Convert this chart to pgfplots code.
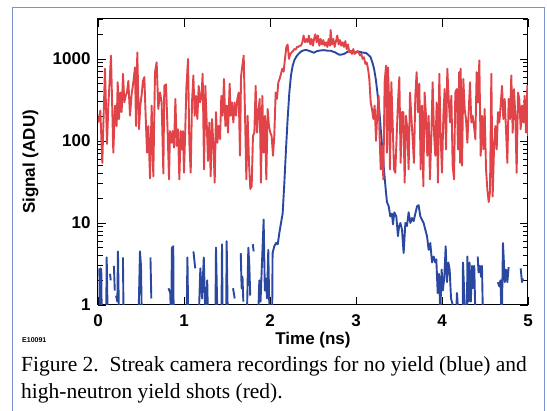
\documentclass[border=0pt]{standalone}
\usepackage{pgfplots}
\pgfplotsset{compat=1.18}
\usepackage{fontspec}
\setmainfont{Liberation Sans}
\newfontfamily\capfont{Liberation Serif}
\definecolor{redline}{RGB}{224,68,72}
\definecolor{blueline}{RGB}{42,72,160}
\definecolor{framec}{RGB}{125,145,205}
\begin{document}
\begin{tikzpicture}[x=1pt,y=1pt]
\useasboundingbox (0,0) rectangle (547,411);
\draw[framec,line width=1.3pt] (12.5,-5) -- (12.5,403.5) -- (544.5,403.5) -- (544.5,-5);
\begin{axis}[
  at={(98pt,106pt)}, anchor=south west,
  scale only axis, width=430pt, height=286pt,
  xmin=0, xmax=5, ymin=1, ymax=3070, ymode=log,
  xtick={0,1,2,3,4,5}, xticklabels={0,1,2,3,4,5},
  ytick={1,10,100,1000}, yticklabels={1,10,100,1000},
  minor ytick={2,3,4,5,6,7,8,9,20,30,40,50,60,70,80,90,200,300,400,500,600,700,800,900,2000,3000},
  tick align=inside,
  major tick length=8pt, minor tick length=5pt,
  every tick/.style={black, line width=0.8pt},
  ticklabel style={font=\fontsize{17}{17}\selectfont\bfseries},
  xticklabel style={anchor=base, yshift=-22pt},
  yticklabel style={xshift=-4pt},
  xlabel={Time (ns)}, ylabel={Signal (ADU)},
  every axis x label/.style={at={(axis description cs:0.5,0)}, anchor=center, yshift=-35pt, font=\fontsize{17}{17}\selectfont\bfseries},
  every axis y label/.style={at={(axis description cs:0,0.5)}, rotate=90, anchor=center, yshift=67.5pt, font=\fontsize{17}{17}\selectfont\bfseries},
  axis line style={line width=1pt, black},
  unbounded coords=jump,
]
\addplot[blueline, line width=1.9pt, line join=round] coordinates {
(0.010,nan)(0.016,2.8)(0.022,0.6)(0.028,2.8)(0.038,2.7)(0.044,0.6)(0.050,nan)
(0.095,0.6)(0.101,3.8)(0.110,1.0)(0.120,nan)(0.140,2.4)(0.148,2.0)(0.155,nan)
(0.185,3.0)(0.195,1.5)(0.200,nan)(0.210,1.3)(0.225,1.1)(0.232,4.5)(0.245,0.6)(0.250,nan)
(0.290,3.8)(0.298,0.6)(0.305,nan)(0.470,0.6)(0.488,4.5)(0.500,3.0)(0.510,0.6)(0.520,nan)
(0.610,3.8)(0.620,1.2)(0.630,nan)(0.820,1.6)(0.840,1.4)(0.850,0.6)(0.860,5.0)(0.875,5.2)(0.880,0.6)(0.890,nan)
(1.030,0.6)(1.040,3.8)(1.050,0.6)(1.060,nan)(1.110,4.5)(1.130,2.8)(1.140,nan)
(1.170,0.6)(1.190,2.8)(1.210,1.2)(1.230,3.8)(1.250,0.6)(1.270,2.0)(1.280,0.6)(1.290,nan)
(1.365,0.6)(1.372,5.0)(1.390,0.6)(1.400,nan)(1.435,0.6)(1.442,5.5)(1.450,0.6)(1.460,nan)
(1.490,0.6)(1.496,6.0)(1.510,0.6)(1.520,nan)(1.570,1.6)(1.590,1.2)(1.600,nan)
(1.660,4.3)(1.670,1.6)(1.680,2.2)(1.690,1.1)(1.700,nan)
(1.730,0.6)(1.748,5.0)(1.760,3.0)(1.770,1.3)(1.780,nan)(1.800,5.5)(1.810,4.5)(1.820,nan)
(1.860,0.6)(1.876,2.0)(1.890,1.1)(1.900,2.1)(1.926,11)(1.940,1.5)(1.953,2.1)(1.965,1.2)
(1.980,4.7)(1.990,1.2)(2.000,0.6)(2.010,nan)(2.025,0.6)(2.030,4.3)(2.050,5.2)(2.070,5.7)
(2.090,5.5)(2.109,7.6)(2.128,10)(2.147,13)(2.167,31)(2.186,79)(2.205,185)(2.225,390)
(2.244,630)(2.264,830)(2.283,960)(2.302,1050)(2.330,1150)(2.360,1230)(2.390,1270)
(2.419,1290)(2.450,1260)(2.477,1230)(2.510,1190)(2.550,1250)(2.590,1270)(2.628,1280)
(2.670,1260)(2.705,1260)(2.730,1230)(2.760,1200)(2.800,1130)(2.830,1130)(2.860,1150)
(2.890,1200)(2.919,1260)(2.957,1230)(2.996,1200)(3.035,1230)(3.070,1200)(3.120,1180)
(3.151,1100)(3.170,1050)(3.190,910)(3.210,760)(3.230,570)(3.250,380)(3.270,245)
(3.290,130)(3.306,79)(3.325,45)(3.345,26)(3.360,18)(3.380,16)(3.399,12)(3.418,13)
(3.430,9.6)(3.446,13.5)(3.469,12)(3.488,6.9)(3.500,9)(3.516,10)(3.535,8.3)(3.554,4.3)
(3.574,10)(3.593,9.2)(3.612,13.5)(3.632,10)(3.651,11.5)(3.670,10.5)(3.690,13)(3.710,16)
(3.728,16.5)(3.748,12)(3.767,11)(3.786,10)(3.806,8.3)(3.826,6.9)(3.845,4.7)(3.864,5.7)
(3.884,3.3)(3.903,3.9)(3.922,3.3)(3.934,3.6)(3.950,1.4)(3.965,2.4)(3.980,0.8)(3.996,2.7)
(4.010,1.5)(4.027,2.2)(4.043,5.2)(4.058,1.9)(4.074,3.3)(4.089,2.7)(4.105,1.2)(4.120,1.05)
(4.136,0.8)(4.145,nan)(4.165,0.8)(4.174,1.4)(4.190,0.8)(4.200,nan)
(4.240,0.6)(4.244,3.3)(4.260,1.3)(4.275,0.6)(4.285,nan)(4.290,0.6)(4.295,3.9)(4.310,1.1)
(4.320,3.3)(4.335,1.1)(4.350,3.0)(4.360,1.6)(4.375,3.0)(4.390,0.6)(4.400,nan)
(4.415,3.9)(4.425,2.5)(4.440,3.0)(4.455,2.2)(4.465,3.0)(4.477,0.6)(4.490,nan)
(4.650,1.9)(4.665,1.7)(4.680,2.0)(4.695,0.6)(4.709,5.7)(4.720,3.3)(4.730,1.9)(4.745,2.7)
(4.760,1.9)(4.775,2.9)(4.785,nan)(4.915,2.8)(4.930,1.9)(4.942,2.1)(4.950,nan)
};
\addplot[redline, line width=1.9pt, line join=round] coordinates {
(0.004,168)(0.027,235)(0.05,54)(0.081,760)(0.105,92)(0.12,270)(0.151,1100)(0.178,72)
(0.198,270)(0.217,152)(0.229,520)(0.244,185)(0.26,390)(0.275,225)(0.291,660)(0.306,295)
(0.322,355)(0.337,390)(0.353,540)(0.372,203)(0.391,370)(0.411,520)(0.43,790)(0.442,152)
(0.457,1200)(0.477,139)(0.492,270)(0.508,370)(0.523,540)(0.539,600)(0.554,203)(0.57,72)
(0.585,152)(0.605,35)(0.624,270)(0.643,37)(0.663,690)(0.682,910)(0.701,245)(0.721,390)
(0.74,295)(0.76,40)(0.771,470)(0.791,490)(0.81,126)(0.826,34)(0.837,132)
(0.853,95)(0.868,132)(0.884,83)(0.9,325)(0.915,87)(0.93,139)(0.946,34)(0.961,132)
(0.977,79)(0.988,132)(1.0,41)(1.016,152)(1.027,430)(1.047,1000)(1.062,95)(1.078,41)
(1.093,295)(1.109,630)(1.124,203)(1.14,355)(1.155,185)(1.171,470)(1.186,295)(1.202,340)
(1.217,660)(1.233,45)(1.248,470)(1.264,168)(1.279,57)(1.295,168)(1.31,37)(1.326,185)
(1.341,95)(1.357,31)(1.372,225)(1.388,95)(1.403,152)(1.419,105)(1.434,355)(1.45,203)
(1.465,570)(1.481,152)(1.496,270)(1.512,126)(1.531,500)(1.543,203)(1.558,295)(1.574,168)
(1.589,295)(1.605,203)(1.62,325)(1.636,390)(1.651,66)(1.663,600)(1.674,760)
(1.694,1100)(1.709,225)(1.725,34)(1.74,203)(1.756,54)(1.771,26)(1.787,28)(1.802,115)
(1.818,126)(1.833,470)(1.849,126)(1.864,225)(1.88,325)(1.895,31)(1.911,355)(1.926,72)
(1.942,203)(1.957,34)(1.973,245)(1.988,152)(2.004,126)(2.019,115)(2.035,66)(2.05,115)
(2.066,390)(2.081,325)(2.097,520)(2.112,570)(2.128,660)(2.143,760)(2.159,700)(2.174,1000)
(2.19,1400)(2.205,1500)(2.221,1000)(2.236,1150)(2.252,1200)(2.267,1250)(2.283,1320)
(2.298,1300)(2.314,1400)(2.329,1400)(2.345,1450)(2.36,1450)(2.376,1600)(2.391,1930)
(2.407,1600)(2.422,1750)(2.438,1600)(2.453,1930)(2.469,1500)(2.484,1750)(2.5,1450)
(2.512,1750)(2.527,2000)(2.543,1600)(2.558,1930)(2.574,1450)(2.589,1750)(2.605,1500)
(2.62,1700)(2.636,1450)(2.651,1600)(2.667,1400)(2.682,1750)(2.698,1450)(2.705,2250)
(2.72,1500)(2.736,1750)(2.752,1400)(2.767,1650)(2.783,1930)(2.798,1500)(2.814,1700)
(2.829,1450)(2.845,1600)(2.86,1400)(2.876,1650)(2.891,1320)(2.907,1500)(2.922,1200)
(2.938,1250)(2.953,1150)(2.969,1320)(2.984,1150)(3.0,1200)(3.016,1250)(3.031,1200)
(3.047,1100)(3.062,1150)(3.078,1000)(3.093,1050)(3.109,870)(3.124,910)(3.14,760)
(3.155,570)(3.171,295)(3.186,245)(3.202,185)(3.217,270)(3.233,100)(3.248,225)(3.264,355)
(3.271,152)(3.287,45)(3.302,87)(3.318,34)(3.333,520)(3.349,830)(3.36,72)(3.372,790)
(3.384,325)(3.395,45)(3.411,520)(3.426,168)(3.442,45)(3.457,41)(3.473,115)(3.488,295)
(3.504,600)(3.519,54)(3.535,225)(3.55,225)(3.566,31)(3.581,203)(3.597,139)(3.612,45)
(3.628,390)(3.643,203)(3.659,105)(3.674,54)(3.69,355)(3.705,690)(3.721,225)(3.736,500)
(3.752,45)(3.767,270)(3.783,28)(3.798,390)(3.814,203)(3.829,66)(3.845,203)(3.86,34)
(3.876,115)(3.891,520)(3.907,126)(3.922,66)(3.938,295)(3.953,31)(3.969,660)(3.984,115)
(4.0,41)(4.016,203)(4.031,430)(4.047,79)(4.062,760)(4.078,325)(4.093,168)(4.109,355)
(4.124,50)(4.14,34)(4.155,390)(4.171,430)(4.186,79)(4.2,690)(4.21,54)(4.217,760)
(4.233,50)(4.248,570)(4.264,245)(4.279,185)(4.295,95)(4.31,225)(4.326,520)(4.341,168)
(4.357,203)(4.372,152)(4.388,105)(4.403,690)(4.419,295)(4.434,960)(4.45,66)(4.465,203)
(4.481,79)(4.496,245)(4.512,45)(4.527,26)(4.543,18)(4.558,24)(4.574,660)(4.589,21)
(4.605,79)(4.62,152)(4.636,79)(4.651,225)(4.667,168)(4.682,270)(4.698,470)(4.713,185)
(4.729,325)(4.744,139)(4.76,54)(4.775,325)(4.791,185)(4.806,630)(4.822,126)(4.837,430)
(4.853,203)(4.868,41)(4.884,390)(4.899,325)(4.915,139)(4.93,270)(4.946,168)(4.961,355)
(4.977,126)(4.992,470)(5.0,115)
};
\end{axis}
\node[anchor=west, inner sep=0pt, font=\fontsize{7}{7}\selectfont\bfseries] at (22,71) {E10091};
\node[anchor=base west, inner sep=0pt, font=\capfont\fontsize{21.5}{21.5}\selectfont] at (21,39.3) {Figure 2.\ \ Streak camera recordings for no yield (blue) and};
\node[anchor=base west, inner sep=0pt, font=\capfont\fontsize{21.5}{21.5}\selectfont] at (21,12.7) {high-neutron yield shots (red).};
\end{tikzpicture}
\end{document}
